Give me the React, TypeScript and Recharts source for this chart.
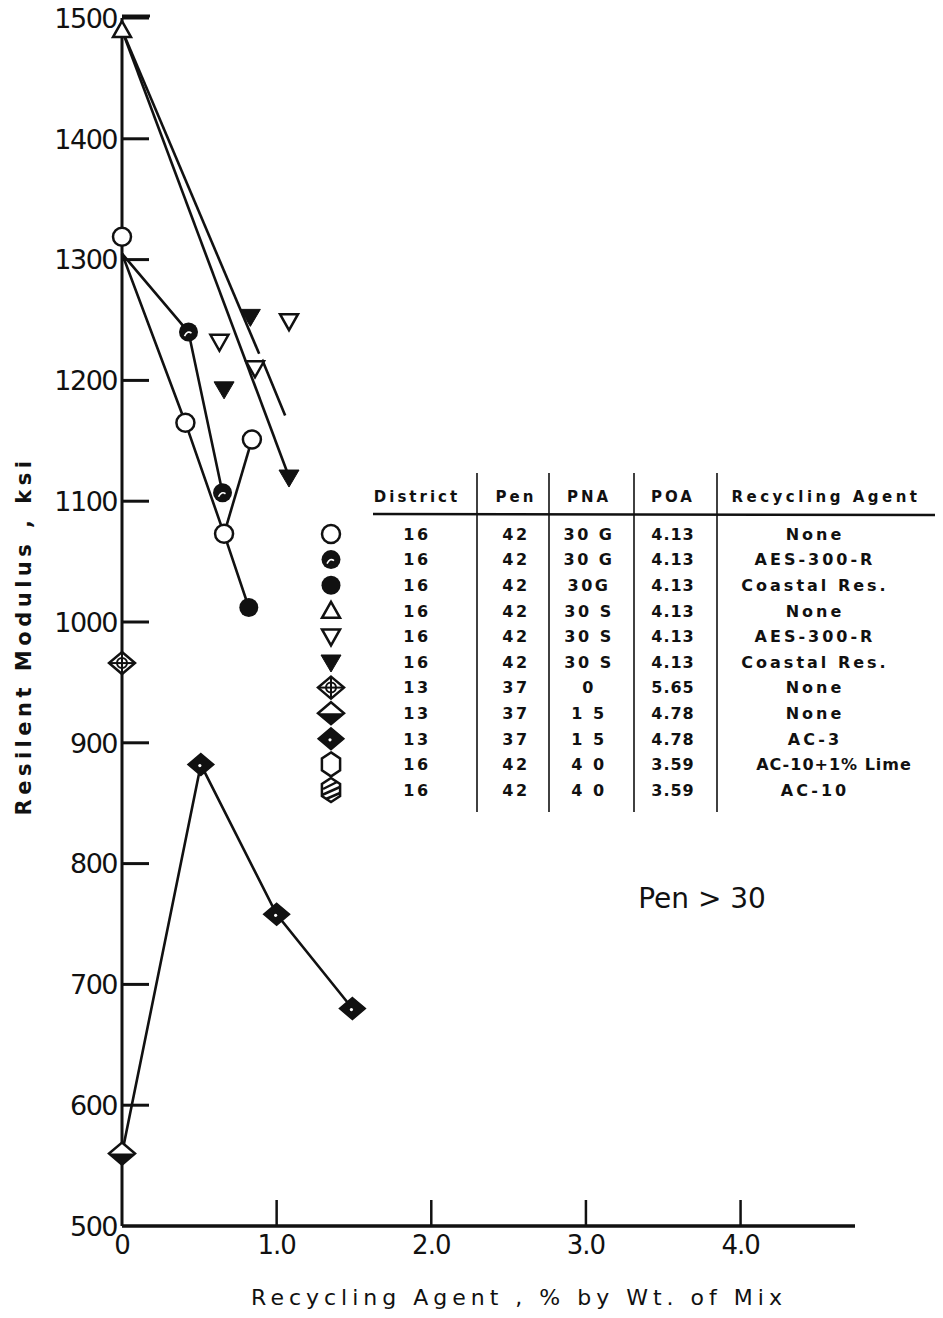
import { ScatterChart, Scatter, XAxis, YAxis } from 'recharts';

// axis ticks
const xTicks = [0, 1, 2, 3, 4];
const xTickLabels = ['0', '1.0', '2.0', '3.0', '4.0'];
const yTicks = [500, 600, 700, 800, 900, 1000, 1100, 1200, 1300, 1400, 1500];

// markers, grouped as in the legend table (x = % recycling agent, y = ksi)
const gNonePts = [{ x: 0, y: 1319 }, { x: 0.41, y: 1165 }, { x: 0.66, y: 1073 }, { x: 0.84, y: 1151 }];
const gAesPts = [{ x: 0.43, y: 1240 }, { x: 0.65, y: 1107 }];
const gCoastalPts = [{ x: 0.82, y: 1012 }];
const sNonePts = [{ x: 0, y: 1490 }];
const sAesPts = [{ x: 0.63, y: 1232 }, { x: 0.86, y: 1210 }, { x: 1.08, y: 1249 }];
const sCoastalPts = [{ x: 0.66, y: 1193 }, { x: 0.83, y: 1253 }, { x: 1.08, y: 1120 }];
const d13NonePts = [{ x: 0, y: 966 }];
const d13None15Pts = [{ x: 0, y: 560 }];
const d13Ac3Pts = [{ x: 0.51, y: 882 }, { x: 1.0, y: 758 }, { x: 1.49, y: 680 }];

// connecting lines as drawn on the original
const lineGNone = [{ x: 0, y: 1305 }, { x: 0.41, y: 1165 }, { x: 0.66, y: 1073 }, { x: 0.82, y: 1012 }];
const lineGNoneBranch = [{ x: 0.66, y: 1073 }, { x: 0.84, y: 1151 }];
const lineGAes = [{ x: 0, y: 1305 }, { x: 0.43, y: 1240 }, { x: 0.65, y: 1107 }];
const lineSCoastal = [{ x: 0, y: 1490 }, { x: 1.08, y: 1120 }];
const lineSA = [{ x: 0, y: 1490 }, { x: 0.887, y: 1222 }];
const lineSB = [{ x: 0.86, y: 1210 }, { x: 0.91, y: 1216 }, { x: 1.055, y: 1171 }];
const lineAc3 = [{ x: 0, y: 560 }, { x: 0.51, y: 882 }, { x: 1.0, y: 758 }, { x: 1.49, y: 680 }];

// legend table
const legendKinds = ['circle', 'aes', 'dot', 'tri', 'triDown', 'triDownFill', 'diamondCross', 'diamondHalf', 'diamondFill', 'hex', 'hexHatch'];
const districts = ['16', '16', '16', '16', '16', '16', '13', '13', '13', '16', '16'];
const pens = ['42', '42', '42', '42', '42', '42', '37', '37', '37', '42', '42'];
const pnas = ['30 G', '30 G', '30G', '30 S', '30 S', '30 S', '0', '1 5', '1 5', '4 0', '4 0'];
const poas = ['4.13', '4.13', '4.13', '4.13', '4.13', '4.13', '5.65', '4.78', '4.78', '3.59', '3.59'];
const agents = ['None', 'AES-300-R', 'Coastal Res.', 'None', 'AES-300-R', 'Coastal Res.', 'None', 'None', 'AC-3', 'AC-10+1% Lime', 'AC-10'];

const INK = '#111';
const FONT = '"DejaVu Sans", sans-serif';

function Marker({ kind, cx, cy }: { kind: string; cx: number; cy: number }) {
    const w = 2.5;
    const dia = `${cx},${cy - 11} ${cx + 13},${cy} ${cx},${cy + 11} ${cx - 13},${cy}`;
    const hexPts = [0, 60, 120, 180, 240, 300]
        .map(a => `${cx + 10.5 * Math.sin((a * Math.PI) / 180)},${cy - 12 * Math.cos((a * Math.PI) / 180)}`)
        .join(' ');
    switch (kind) {
        case 'circle':
            return <circle cx={cx} cy={cy} r={9} fill="#fff" stroke={INK} strokeWidth={w} />;
        case 'aes':
            return (
                <g>
                    <circle cx={cx} cy={cy} r={9.5} fill={INK} />
                    <path d={`M${cx - 4},${cy + 4} q3,-6 7,-3`} stroke="#fff" strokeWidth={1.6} fill="none" />
                </g>
            );
        case 'dot':
            return <circle cx={cx} cy={cy} r={9.5} fill={INK} />;
        case 'tri':
            return <polygon points={`${cx},${cy - 9} ${cx + 9},${cy + 7} ${cx - 9},${cy + 7}`} fill="#fff" stroke={INK} strokeWidth={w} />;
        case 'triDown':
            return <polygon points={`${cx - 9},${cy - 7} ${cx + 9},${cy - 7} ${cx},${cy + 9}`} fill="#fff" stroke={INK} strokeWidth={w} />;
        case 'triDownFill':
            return <polygon points={`${cx - 10},${cy - 7} ${cx + 10},${cy - 7} ${cx},${cy + 10}`} fill={INK} stroke={INK} strokeWidth={1} />;
        case 'diamondCross':
            return (
                <g>
                    <polygon points={dia} fill="#fff" stroke={INK} strokeWidth={w} />
                    <line x1={cx - 13} y1={cy} x2={cx + 13} y2={cy} stroke={INK} strokeWidth={2} />
                    <line x1={cx} y1={cy - 11} x2={cx} y2={cy + 11} stroke={INK} strokeWidth={2} />
                    <circle cx={cx} cy={cy} r={5} fill="none" stroke={INK} strokeWidth={2} />
                </g>
            );
        case 'diamondHalf':
            return (
                <g>
                    <polygon points={dia} fill="#fff" stroke={INK} strokeWidth={w} />
                    <polygon points={`${cx - 13},${cy} ${cx + 13},${cy} ${cx},${cy + 11}`} fill={INK} />
                </g>
            );
        case 'diamondFill':
            return (
                <g>
                    <polygon points={dia} fill={INK} stroke={INK} strokeWidth={1.5} />
                    <circle cx={cx - 1} cy={cy + 1} r={1.6} fill="#fff" />
                </g>
            );
        case 'hex':
            return <polygon points={hexPts} fill="#fff" stroke={INK} strokeWidth={w} />;
        case 'hexHatch':
            return (
                <g>
                    <polygon points={hexPts} fill="#fff" stroke={INK} strokeWidth={w} />
                    <line x1={cx - 8} y1={cy - 1} x2={cx + 6} y2={cy - 8} stroke={INK} strokeWidth={2.5} />
                    <line x1={cx - 9} y1={cy + 5} x2={cx + 9} y2={cy - 3} stroke={INK} strokeWidth={2.5} />
                    <line x1={cx - 5} y1={cy + 9} x2={cx + 9} y2={cy + 3} stroke={INK} strokeWidth={2.5} />
                </g>
            );
        default:
            return <g />;
    }
}

const markerShape = (kind: string) => (props: any) => <Marker kind={kind} cx={props.cx} cy={props.cy} />;
const noShape = () => <g />;

const YTick = (props: any) => {
    const { x, y, payload } = props;
    return (
        <g>
            {payload.value !== 500 && <line x1={x} y1={y} x2={x + 27} y2={y} stroke={INK} strokeWidth={3} />}
            <text x={x - 5} y={y} dy="0.36em" textAnchor="end" fontFamily={FONT} fontSize={27} letterSpacing={-1.5} fill={INK}>
                {payload.value}
            </text>
        </g>
    );
};

const XTick = (props: any) => {
    const { x, y, payload } = props;
    const i = xTicks.indexOf(payload.value);
    return (
        <g>
            {payload.value !== 0 && <line x1={x} y1={y} x2={x} y2={y - 26} stroke={INK} strokeWidth={2.5} />}
            <text x={x} y={y + 28} textAnchor="middle" fontFamily={FONT} fontSize={26} letterSpacing={-1} fill={INK}>
                {xTickLabels[i]}
            </text>
        </g>
    );
};

const lineStyle = { stroke: INK, strokeWidth: 2.6 };

function LegendTable() {
    const colX = { district: 417, pen: 516, pna: 589, poa: 673, agent: 815 };
    const rowY = (i: number) => 534 + i * 25.6;
    const txt = { fontFamily: FONT, fontSize: 16, fontWeight: 700, fill: INK, letterSpacing: 2.5, textAnchor: 'middle' as const };
    const head = { ...txt, fontSize: 15, letterSpacing: 3 };
    return (
        <g>
            <text x={colX.district} y={502} {...head}>District</text>
            <text x={colX.pen} y={502} {...head}>Pen</text>
            <text x={colX.pna} y={502} {...head}>PNA</text>
            <text x={colX.poa} y={502} {...head}>POA</text>
            <text x={826} y={502} {...head} letterSpacing={3.5}>Recycling Agent</text>
            <line x1={373} y1={514} x2={935} y2={515} stroke={INK} strokeWidth={2.5} />
            {[477, 549, 634, 717].map(vx => (
                <line key={vx} x1={vx} y1={473} x2={vx} y2={812} stroke={INK} strokeWidth={1.6} />
            ))}
            {legendKinds.map((k, i) => (
                <g key={k}>
                    <Marker kind={k} cx={331} cy={rowY(i)} />
                    <text x={colX.district} y={rowY(i)} dy="0.36em" {...txt}>{districts[i]}</text>
                    <text x={colX.pen} y={rowY(i)} dy="0.36em" {...txt}>{pens[i]}</text>
                    <text x={colX.pna} y={rowY(i)} dy="0.36em" {...txt}>{pnas[i]}</text>
                    <text x={colX.poa} y={rowY(i)} dy="0.36em" {...txt} letterSpacing={1}>{poas[i]}</text>
                    <text
                        x={i === 9 ? 834 : colX.agent}
                        y={rowY(i)}
                        dy="0.36em"
                        {...txt}
                        letterSpacing={i === 9 ? 1 : 3}
                    >
                        {agents[i]}
                    </text>
                </g>
            ))}
        </g>
    );
}

export default function App() {
    return (
        <div style={{ position: 'absolute', left: 0, top: 0, width: 943, height: 1318, background: '#fff' }}>
            <ScatterChart width={943} height={1318} margin={{ top: 18, right: 88, bottom: 62, left: 62 }}>
                <XAxis
                    type="number"
                    dataKey="x"
                    domain={[0, 4.74]}
                    ticks={xTicks}
                    height={30}
                    tickSize={0}
                    tickMargin={0}
                    tickLine={false}
                    axisLine={{ stroke: INK, strokeWidth: 3.5 }}
                    tick={<XTick />}
                />
                <YAxis
                    type="number"
                    dataKey="y"
                    domain={[500, 1500]}
                    ticks={yTicks}
                    width={60}
                    tickSize={0}
                    tickMargin={0}
                    tickLine={false}
                    axisLine={{ stroke: INK, strokeWidth: 3 }}
                    tick={<YTick />}
                />
                <Scatter data={lineGNone} line={lineStyle} shape={noShape} isAnimationActive={false} />
                <Scatter data={lineGNoneBranch} line={lineStyle} shape={noShape} isAnimationActive={false} />
                <Scatter data={lineGAes} line={lineStyle} shape={noShape} isAnimationActive={false} />
                <Scatter data={lineSCoastal} line={lineStyle} shape={noShape} isAnimationActive={false} />
                <Scatter data={lineSA} line={lineStyle} shape={noShape} isAnimationActive={false} />
                <Scatter data={lineSB} line={lineStyle} shape={noShape} isAnimationActive={false} />
                <Scatter data={lineAc3} line={lineStyle} shape={noShape} isAnimationActive={false} />

                <Scatter data={gNonePts} shape={markerShape('circle')} isAnimationActive={false} />
                <Scatter data={gAesPts} shape={markerShape('aes')} isAnimationActive={false} />
                <Scatter data={gCoastalPts} shape={markerShape('dot')} isAnimationActive={false} />
                <Scatter data={sNonePts} shape={markerShape('tri')} isAnimationActive={false} />
                <Scatter data={sAesPts} shape={markerShape('triDown')} isAnimationActive={false} />
                <Scatter data={sCoastalPts} shape={markerShape('triDownFill')} isAnimationActive={false} />
                <Scatter data={d13NonePts} shape={markerShape('diamondCross')} isAnimationActive={false} />
                <Scatter data={d13None15Pts} shape={markerShape('diamondHalf')} isAnimationActive={false} />
                <Scatter data={d13Ac3Pts} shape={markerShape('diamondFill')} isAnimationActive={false} />
            </ScatterChart>
            <svg width={943} height={1318} style={{ position: 'absolute', left: 0, top: 0, pointerEvents: 'none' }}>
                <line x1={122} y1={16} x2={150} y2={16} stroke={INK} strokeWidth={3} />
                <text
                    x={23}
                    y={636}
                    transform="rotate(-90 23 636)"
                    textAnchor="middle"
                    dy="0.36em"
                    fontFamily={FONT}
                    fontSize={21}
                    fontWeight={700}
                    letterSpacing={4.5}
                    fill={INK}
                >
                    Resilent Modulus , ksi
                </text>
                <text x={519} y={1305} textAnchor="middle" fontFamily={FONT} fontSize={22} letterSpacing={5} fill={INK}>
                    Recycling Agent , % by Wt. of Mix
                </text>
                <text x={702} y={908} textAnchor="middle" fontFamily={FONT} fontSize={28} fill={INK}>
                    Pen &gt; 30
                </text>
                <LegendTable />
            </svg>
        </div>
    );
}
